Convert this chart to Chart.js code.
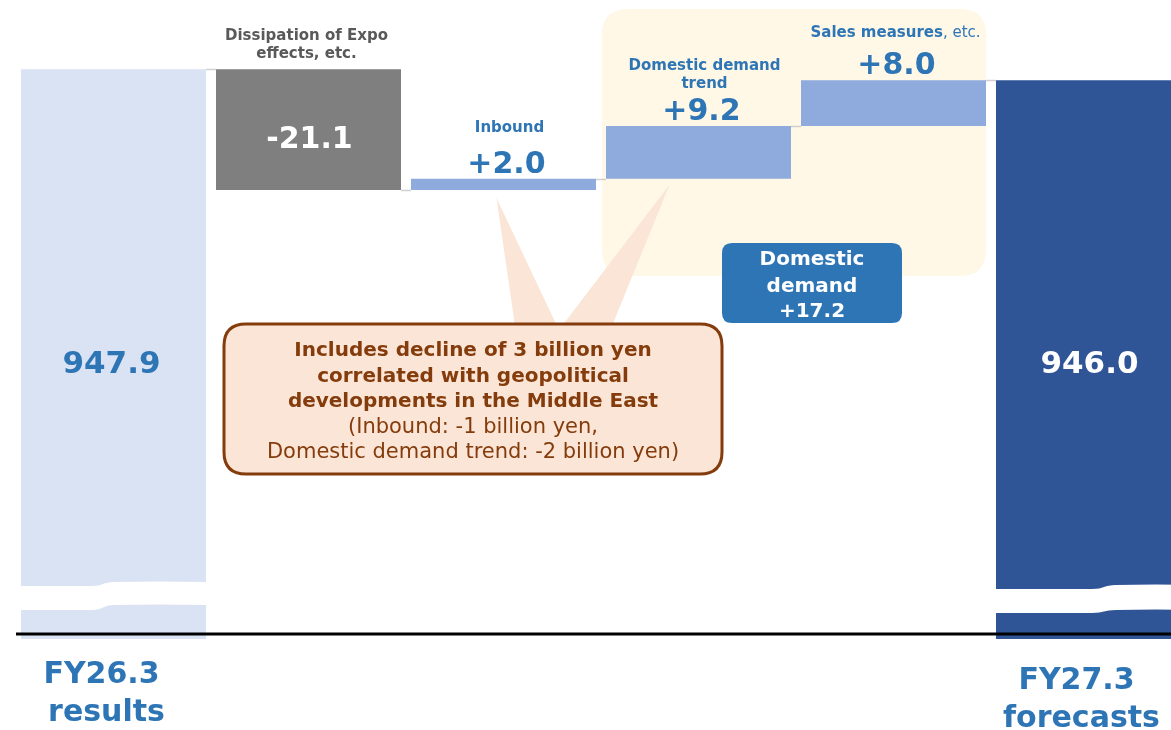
<!DOCTYPE html>
<html>
<head>
<meta charset="utf-8">
<script src="https://cdn.jsdelivr.net/npm/chart.js@4"></script>
<style>
  html, body { margin: 0; padding: 0; background: #fff; overflow: hidden; }
  #wrap { width: 1200px; height: 730px; }
</style>
</head>
<body>
<div id="wrap"><canvas id="chart1" width="1200" height="730"></canvas></div>
<script>
// category captions (one entry per bar, split into lines)
const labels = [
  ['FY26.3', 'results'],
  ['Dissipation of Expo', 'effects, etc.'],
  ['Inbound'],
  ['Domestic demand', 'trend'],
  ['Sales measures, etc.'],
  ['FY27.3', 'forecasts']
];
const startValue = 947.9;
const changes = [-21.1, 2.0, 9.2, 8.0];
const endValue = 946.0;
const domesticParts = [3, 4]; // bars summed in the "Domestic demand" box

// axis is cut: bars of the totals start from the floor of the visible range
const axisMin = 848.4;
const axisMax = 960;

const barColors = ['#DAE3F3', '#7F7F7F', '#8FAADC', '#8FAADC', '#8FAADC', '#2F5597'];
const FONT = '"DejaVu Sans", Verdana, sans-serif';
const BLUE = '#2E75B6';
const BROWN = '#843C0C';

// running levels after each step
const levels = [startValue];
changes.forEach(c => levels.push(+(levels[levels.length - 1] + c).toFixed(1)));

const ranges = [[axisMin, startValue]];
changes.forEach((c, i) => ranges.push([levels[i], levels[i + 1]]));
ranges.push([axisMin, endValue]);

function fmtDelta(v) {
  return (v > 0 ? '+' : '') + v.toFixed(1);
}

function roundBox(ctx, x, y, w, h, r) {
  ctx.beginPath();
  ctx.moveTo(x + r, y);
  ctx.lineTo(x + w - r, y);
  ctx.quadraticCurveTo(x + w, y, x + w, y + r);
  ctx.lineTo(x + w, y + h - r);
  ctx.quadraticCurveTo(x + w, y + h, x + w - r, y + h);
  ctx.lineTo(x + r, y + h);
  ctx.quadraticCurveTo(x, y + h, x, y + h - r);
  ctx.lineTo(x, y + r);
  ctx.quadraticCurveTo(x, y, x + r, y);
  ctx.closePath();
}

function text(ctx, str, x, y, font, color, align) {
  ctx.font = font;
  ctx.fillStyle = color;
  ctx.textAlign = align || 'center';
  ctx.textBaseline = 'alphabetic';
  ctx.fillText(str, x, y);
}

// white wavy band that marks the cut in the total bars
function drawBreak(ctx, left, right, tx, upL, upR, loL, loR) {
  ctx.save();
  ctx.fillStyle = '#ffffff';
  ctx.beginPath();
  ctx.moveTo(left - 1, upL);
  ctx.lineTo(tx - 12, upL);
  ctx.bezierCurveTo(tx, upL, tx, upR, tx + 12, upR);
  ctx.quadraticCurveTo((tx + right) / 2, upR - 1, right + 1, upR);
  ctx.lineTo(right + 1, loR);
  ctx.quadraticCurveTo((tx + right) / 2, loR - 1, tx + 12, loR);
  ctx.bezierCurveTo(tx, loR, tx, loL, tx - 12, loL);
  ctx.lineTo(left - 1, loL);
  ctx.closePath();
  ctx.fill();
  ctx.restore();
}

function barBox(el) {
  const p = el.getProps(['x', 'y', 'base', 'width'], true);
  return {
    x: p.x,
    left: p.x - p.width / 2,
    right: p.x + p.width / 2,
    top: Math.min(p.y, p.base),
    bottom: Math.max(p.y, p.base)
  };
}

const waterfallDecor = {
  id: 'waterfallDecor',
  beforeDatasetsDraw(chart) {
    const ctx = chart.ctx;
    const bars = chart.getDatasetMeta(0).data.map(barBox);
    // pale panel behind the domestic demand steps
    const a = bars[domesticParts[0]], b = bars[domesticParts[1]];
    ctx.save();
    ctx.fillStyle = '#FFF8E6';
    roundBox(ctx, a.left - 4, 9, b.right - a.left + 4, 267, 26);
    ctx.fill();
    ctx.restore();
  },
  afterDatasetsDraw(chart) {
    const ctx = chart.ctx;
    const y = chart.scales.y;
    const bars = chart.getDatasetMeta(0).data.map(barBox);

    // connectors between neighbouring bars
    ctx.save();
    ctx.strokeStyle = '#D0D0D0';
    ctx.lineWidth = 1.5;
    for (let i = 0; i < bars.length - 1; i++) {
      const py = Math.round(y.getPixelForValue(levels[i])) + 0.5;
      ctx.beginPath();
      ctx.moveTo(bars[i].right, py);
      ctx.lineTo(bars[i + 1].left, py);
      ctx.stroke();
    }
    ctx.restore();

    // axis cut on the two totals
    const f = bars[0], l = bars[5];
    drawBreak(ctx, f.left, f.right, f.left + 82, 586, 582, 610, 605);
    drawBreak(ctx, l.left, l.right + 20, l.left + 108, 589, 585, 613, 610);

    // base line
    ctx.save();
    ctx.strokeStyle = '#000';
    ctx.lineWidth = 3;
    ctx.beginPath();
    ctx.moveTo(chart.chartArea.left, 634);
    ctx.lineTo(chart.width, 634);
    ctx.stroke();
    ctx.restore();

    // totals
    text(ctx, startValue.toFixed(1), f.x - 2, 373, 'bold 31px ' + FONT, BLUE);
    text(ctx, endValue.toFixed(1), l.x + 1, 373, 'bold 31px ' + FONT, '#ffffff');

    // bottom captions
    [[0, 683, BLUE], [5, 689, BLUE]].forEach(([i, by, col]) => {
      text(ctx, labels[i][0], bars[i].x - 12, by, 'bold 30px ' + FONT, col);
      text(ctx, labels[i][1], bars[i].x - 7, by + 38, 'bold 30px ' + FONT, col);
    });

    // negative step: value inside, caption above in grey
    const d = bars[1];
    text(ctx, fmtDelta(changes[0]), d.x + 1, (d.top + d.bottom) / 2 + 18, 'bold 30px ' + FONT, '#ffffff');
    labels[1].forEach((line, k) => {
      const by = d.top - 11 - 18.5 * (labels[1].length - 1 - k);
      text(ctx, line, d.x - 2, by, 'bold 15px ' + FONT, '#595959');
    });

    // positive steps: value and caption above the bar
    const capGap = { 2: 41, 3: 32, 4: 37 };
    for (let i = 2; i <= 4; i++) {
      const b = bars[i];
      const vy = b.top - 6;
      text(ctx, fmtDelta(changes[i - 1]), b.x + 3, vy, 'bold 30px ' + FONT, BLUE);
      const lines = labels[i];
      lines.forEach((line, k) => {
        const by = vy - capGap[i] - 18 * (lines.length - 1 - k);
        if (line.endsWith(', etc.')) {
          const strong = line.slice(0, -6), light = line.slice(-6);
          ctx.font = 'bold 15px ' + FONT;
          const w1 = ctx.measureText(strong).width;
          ctx.font = '15px ' + FONT;
          const w2 = ctx.measureText(light).width;
          const x0 = b.x + 2 - (w1 + w2) / 2;
          text(ctx, strong, x0, by, 'bold 15px ' + FONT, BLUE, 'left');
          text(ctx, light, x0 + w1, by, '15px ' + FONT, BLUE, 'left');
        } else {
          text(ctx, line, b.x + 6, by, 'bold 15px ' + FONT, BLUE);
        }
      });
    }

    // callout pointers towards Inbound and Domestic demand trend
    ctx.save();
    ctx.fillStyle = '#FBE5D6';
    ctx.beginPath();
    ctx.moveTo(bars[2].x - 7, bars[2].bottom + 8);
    ctx.lineTo(515, 326);
    ctx.lineTo(557, 326);
    ctx.closePath();
    ctx.fill();
    ctx.beginPath();
    ctx.moveTo(bars[3].x - 29, bars[3].bottom + 6);
    ctx.lineTo(562, 326);
    ctx.lineTo(612, 326);
    ctx.closePath();
    ctx.fill();

    // callout box
    roundBox(ctx, 224, 324, 498, 150, 22);
    ctx.fill();
    ctx.strokeStyle = BROWN;
    ctx.lineWidth = 3;
    ctx.stroke();
    ctx.restore();

    const cx = 473;
    text(ctx, 'Includes decline of 3 billion yen', cx, 356, 'bold 20px ' + FONT, BROWN);
    text(ctx, 'correlated with geopolitical', cx, 382, 'bold 20px ' + FONT, BROWN);
    text(ctx, 'developments in the Middle East', cx, 407, 'bold 20px ' + FONT, BROWN);
    text(ctx, '(Inbound: -1 billion yen,', cx, 433, '21px ' + FONT, BROWN);
    text(ctx, 'Domestic demand trend: -2 billion yen)', cx, 458, '21px ' + FONT, BROWN);

    // domestic demand subtotal
    const domestic = domesticParts.reduce((s, i) => s + changes[i - 1], 0);
    ctx.save();
    ctx.fillStyle = BLUE;
    roundBox(ctx, 722, 243, 180, 80, 10);
    ctx.fill();
    ctx.restore();
    text(ctx, 'Domestic', 812, 265, 'bold 20px ' + FONT, '#ffffff');
    text(ctx, 'demand', 812, 292, 'bold 20px ' + FONT, '#ffffff');
    text(ctx, fmtDelta(domestic), 812, 317, 'bold 20px ' + FONT, '#ffffff');
  }
};

window.addEventListener('DOMContentLoaded', () => {
  const ctx = document.getElementById('chart1').getContext('2d');
  new Chart(ctx, {
    type: 'bar',
    data: {
      labels: labels.map(l => l.join(' ')),
      datasets: [{
        data: ranges,
        backgroundColor: barColors,
        borderWidth: 0,
        barPercentage: 185 / 195,
        categoryPercentage: 1
      }]
    },
    options: {
      responsive: false,
      animation: false,
      layout: { padding: { left: 16, right: 14, top: 0, bottom: 91 } },
      plugins: {
        legend: { display: false },
        tooltip: { enabled: false }
      },
      scales: {
        x: { display: false },
        y: { display: false, min: axisMin, max: axisMax }
      }
    },
    plugins: [waterfallDecor]
  });
});
</script>
</body>
</html>
